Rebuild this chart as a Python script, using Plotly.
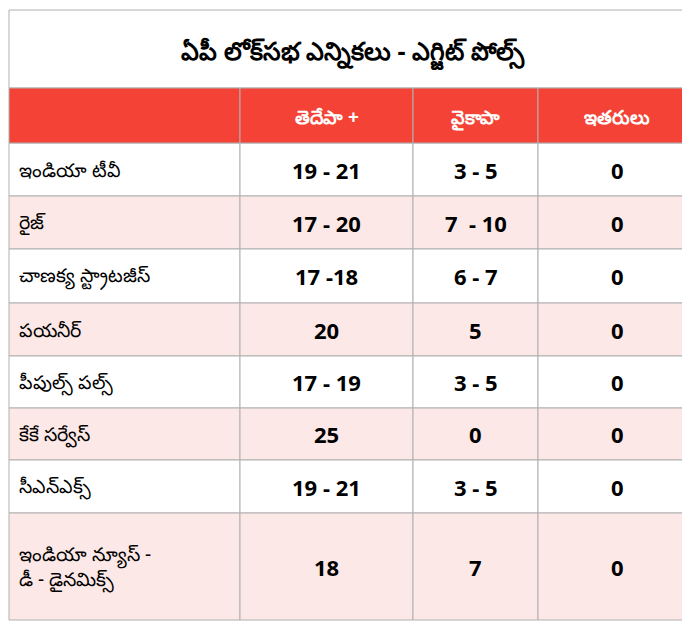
import plotly.graph_objects as go

title = "ఏపీ లోక్‌సభ ఎన్నికలు - ఎగ్జిట్ పోల్స్"
columns = ["", "తెదేపా +", "వైకాపా", "ఇతరులు"]
agencies = ["ఇండియా టీవీ", "రైజ్", "చాణక్య స్ట్రాటజీస్", "పయనీర్", "పీపుల్స్ పల్స్",
            "కేకే సర్వేస్", "సీఎన్ఎక్స్", "ఇండియా న్యూస్ -<br>డీ - డైనమిక్స్"]
tdp = ["19 - 21", "17 - 20", "17 -18", "20", "17 - 19", "25", "19 - 21", "18"]
ycp = ["3 - 5", "7  - 10", "6 - 7", "5", "3 - 5", "0", "3 - 5", "7"]
others = ["0", "0", "0", "0", "0", "0", "0", "0"]

W, H = 690, 624
red = "#f44336"
pink = "#fce8e6"
grid = "#b0b0b0"
col_edges = [1, 232, 405, 530, 688]
row_edges = [135, 188, 241, 295, 348, 400, 452, 505, 612]
font = "Noto Sans"

fig = go.Figure()
shapes, ann = [], []
# title
shapes.append(dict(type="rect", x0=col_edges[0], x1=col_edges[-1], y0=2, y1=80,
                   line=dict(color=grid, width=1), fillcolor="white"))
ann.append(dict(x=(col_edges[0] + col_edges[-1]) / 2, y=44, text=f"<b>{title}</b>",
                font=dict(size=25, color="black", family=font)))
# header
for j, c in enumerate(columns):
    shapes.append(dict(type="rect", x0=col_edges[j], x1=col_edges[j + 1], y0=80, y1=135,
                       line=dict(color=grid, width=1), fillcolor=red))
    ann.append(dict(x=(col_edges[j] + col_edges[j + 1]) / 2, y=109, text=f"<b>{c}</b>",
                    font=dict(size=19, color="white", family=font)))
# body
for i, row in enumerate(zip(agencies, tdp, ycp, others)):
    y0, y1 = row_edges[i], row_edges[i + 1]
    fill = "white" if i % 2 == 0 else pink
    for j, v in enumerate(row):
        shapes.append(dict(type="rect", x0=col_edges[j], x1=col_edges[j + 1], y0=y0, y1=y1,
                           line=dict(color=grid, width=1), fillcolor=fill, layer="below"))
        if j == 0:
            ann.append(dict(x=col_edges[0] + 8, y=(y0 + y1) / 2, text=v, xanchor="left",
                            align="left", font=dict(size=19, color="black", family=font)))
        else:
            ann.append(dict(x=(col_edges[j] + col_edges[j + 1]) / 2, y=(y0 + y1) / 2,
                            text=f"<b>{v}</b>", font=dict(size=22, color="black", family=font)))
for a in ann:
    a.update(xref="x", yref="y", showarrow=False, yanchor="middle")
    a.setdefault("xanchor", "center")

fig.update_layout(width=W, height=H, margin=dict(l=0, r=0, t=0, b=0),
                  paper_bgcolor="white", plot_bgcolor="white",
                  shapes=shapes, annotations=ann, showlegend=False,
                  xaxis=dict(range=[0, W], visible=False, fixedrange=True),
                  yaxis=dict(range=[H, 0], visible=False, fixedrange=True))
fig.write_html("out.html")
